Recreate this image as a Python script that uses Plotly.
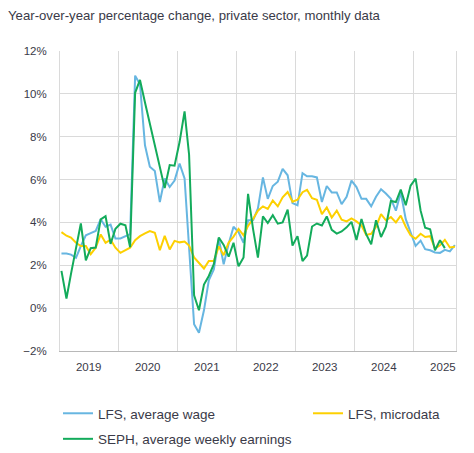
import plotly.graph_objects as go

# monthly, Jan 2019 - Sep 2025 (mid-month)
months = [f"{2019 + k // 12}-{k % 12 + 1:02d}-15" for k in range(81)]

lfs_avg_wage = [
    2.55, 2.55, 2.5, 2.35, 2.9, 3.4, 3.5, 3.6, 4.15, 3.8, 3.9, 3.25,
    3.25, 3.35, 3.45, 10.85, 10.45, 7.6, 6.6, 6.4, 4.95, 6.05, 5.65, 5.95,
    6.75, 6.05, 3.0, -0.75, -1.15, -0.1, 1.3, 1.8, 3.25, 2.05, 3.0, 3.8,
    3.55, 3.05, 4.1, 4.1, 4.65, 6.1, 5.1, 5.7, 5.9, 6.5, 6.2, 4.9,
    4.8, 6.3, 6.15, 6.15, 6.1, 4.95, 5.7, 5.4, 5.4, 4.85, 5.2, 5.95,
    5.65, 5.1, 5.1, 4.75, 5.2, 5.55, 5.35, 5.1, 4.55, 5.4, 4.15, 3.55,
    2.9, 3.15, 2.75, 2.7, 2.6, 2.58, 2.72, 2.65, 2.94,
]

lfs_microdata = [
    3.55, 3.38, 3.29, 3.05, 2.9, 2.9, 2.52, 2.82, 3.44, 3.05, 3.2, 2.82,
    2.58, 2.71, 2.82, 3.17, 3.36, 3.49, 3.6, 3.52, 2.7, 3.37, 2.74, 3.14,
    3.07, 3.11, 2.92, 2.37, 2.12, 1.85, 2.2, 2.2, 2.88, 2.47, 3.06, 3.34,
    3.7, 3.4, 3.84, 4.16, 4.55, 4.75, 4.63, 5.02, 4.75, 5.17, 5.42, 4.97,
    5.06, 5.41, 5.52, 5.13, 5.06, 4.39, 4.7, 4.23, 4.55, 4.13, 4.05, 4.19,
    4.05, 3.86, 3.42, 3.47, 3.8, 4.39, 4.1, 4.25, 4.0, 4.32, 3.8, 3.4,
    3.24, 3.47, 3.32, 3.36, 2.78, 2.93, 3.19, 2.83, 2.87,
]

# SEPH ends two months earlier (Jul 2025)
seph_weekly = [
    1.74, 0.45, 1.6, 2.8, 3.95, 2.23, 2.8, 2.83, 4.14, 4.29, 3.0, 3.7,
    3.94, 3.87, 2.84, 10.05, 10.65, 9.6, 8.6, 7.6, 6.6, 5.6, 6.68, 6.65,
    7.75, 9.18, 7.16, 0.6, -0.1, 1.1, 1.5, 2.05, 3.3, 2.95, 2.4, 3.05,
    1.95, 2.36, 5.33, 3.69, 2.36, 4.28, 3.97, 4.34, 3.94, 4.0, 4.6, 2.92,
    3.36, 2.2, 2.45, 3.81, 3.95, 3.86, 4.28, 3.65, 3.48, 3.58, 3.77, 4.03,
    3.18, 4.16, 3.45, 2.98, 4.1, 3.32, 3.8, 5.0, 4.95, 5.53, 4.8, 5.72,
    6.04, 4.55, 3.75, 3.68, 2.7, 3.17, 2.8,
]

# name, values, colour, legend box, legend group
series = [
    ("LFS, average wage", lfs_avg_wage, "#67b6e1", "legend", "a"),
    ("LFS, microdata", lfs_microdata, "#fdd000", "legend2", "b"),
    ("SEPH, average weekly earnings", seph_weekly, "#13ab5b", "legend", "c"),
]

FONT = "Liberation Sans, Arial, sans-serif"
TEXT = "#3a3a48"
GRID = "#dadada"

fig = go.Figure()
for name, vals, color, leg, grp in series:
    fig.add_trace(go.Scatter(
        x=months[:len(vals)], y=vals, name=name, mode="lines",
        line=dict(color=color, width=2),
        legend=leg, legendgroup=grp,
    ))

# page body adds an 8px offset, so margins are trimmed to compensate
legend_style = dict(
    orientation="v", xref="container", yref="container",
    xanchor="left", yanchor="top", itemwidth=30, tracegroupgap=5,
    font=dict(size=13.5, color=TEXT), bgcolor="rgba(0,0,0,0)",
)
fig.update_layout(
    width=474, height=453,
    margin=dict(l=52, r=26, t=43, b=110, autoexpand=False),
    paper_bgcolor="white", plot_bgcolor="white",
    font=dict(family=FONT, color=TEXT, size=11.5),
    title=dict(
        text="Year-over-year percentage change, private sector, monthly data",
        x=0.0, xanchor="left", y=1 - 7 / 453, yanchor="middle",
        font=dict(size=13.2, color=TEXT),
    ),
    legend=dict(x=50 / 474, y=1 - 390 / 453, **legend_style),
    legend2=dict(x=300 / 474, y=1 - 390 / 453, **legend_style),
    showlegend=True,
)

fig.update_xaxes(
    type="date", range=["2019-01-06", "2025-09-22"],
    dtick="M12", tick0="2019-01-01", ticklabelmode="period", tickformat="%Y",
    showgrid=True, gridcolor=GRID, gridwidth=1,
    showline=True, linecolor="#b8b8b8", linewidth=1,
    ticks="", ticklabelstandoff=5,
)
fig.update_yaxes(
    range=[-2, 12], dtick=2, ticksuffix="%",
    showgrid=True, gridcolor=GRID, gridwidth=1, zeroline=False,
    showline=True, linecolor=GRID, linewidth=1, mirror=True,
    ticks="", ticklabelstandoff=10,
)

fig.write_html("out.html")
